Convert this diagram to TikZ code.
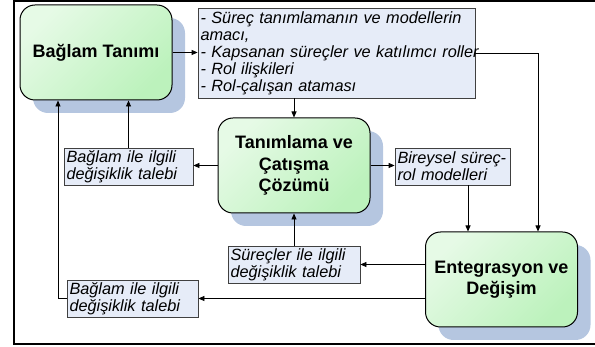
\documentclass[tikz,border=0pt]{standalone}
\usepackage{fontspec}
\setmainfont{Liberation Sans}
\usetikzlibrary{arrows.meta,shadows}
\definecolor{greenA}{HTML}{E6FAE6}
\definecolor{greenB}{HTML}{BCF2BC}
\definecolor{shadowblue}{HTML}{B5C6E0}
\definecolor{notefill}{HTML}{E6ECF8}
\definecolor{noteline}{HTML}{404040}
\tikzset{
  phase/.style={draw, line width=1pt, rounded corners=15pt, minimum width=152pt, minimum height=95pt,
    top color=greenA, bottom color=greenB, shading angle=45,
    drop shadow={shadow xshift=13pt, shadow yshift=-13pt, fill=shadowblue, opacity=1},
    align=center, font=\bfseries\fontsize{18}{21.5}\selectfont},
  note/.style={draw=noteline, fill=notefill, line width=0.8pt, align=left, inner xsep=2.5pt, inner ysep=1pt,
    minimum height=37pt, font=\itshape\fontsize{16.3}{17}\selectfont},
  flow/.style={-{Triangle[length=6pt,width=5pt]}, line width=0.8pt}
}
\begin{document}
\begin{tikzpicture}[x=1pt,y=-1pt]
\useasboundingbox (0,0) rectangle (595,347);
\draw[line width=2pt] (595,1) -- (14,1) -- (14,344) -- (595,344);
% main phases
\node[phase] (baglam) at (96,52.5) {Bağlam Tanımı};
\node[phase] (tanim) at (294,165.5) {Tanımlama ve\\Çatışma\\Çözümü};
\node[phase] (enteg) at (501.5,279.5) {Entegrasyon ve\\Değişim};
% notes
\node[note, text width=272pt, minimum height=90pt] (amac) at (336.5,53) {\mbox{- Süreç tanımlamanın ve modellerin}\\\mbox{amacı,}\\\mbox{- Kapsanan süreçler ve katılımcı roller}\\\mbox{- Rol ilişkileri}\\\mbox{- Rol-çalışan ataması}\\[2pt]};
\node[note, text width=124pt] (talepA) at (128.5,166.5) {Bağlam ile ilgili\\değişiklik talebi};
\node[note, text width=110pt] (bireysel) at (452.5,166.5) {Bireysel süreç-\\rol modelleri};
\node[note, text width=127pt] (surec) at (294,264.5) {Süreçler ile ilgili\\değişiklik talebi};
\node[note, text width=126pt] (talepB) at (132.5,298.5) {Bağlam ile ilgili\\değişiklik talebi};
% connectors
\draw[flow] (baglam.east) -- (baglam.east -| amac.west);
\draw[flow] (tanim.north |- amac.south) -- (tanim.north);
\draw[flow] (amac.east) -| ([xshift=36.5pt]enteg.north);
\draw[flow] (tanim.west) -- (tanim.west -| talepA.east);
\draw[flow] (talepA.north) -- (talepA.north |- baglam.south);
\draw[flow] (tanim.east) -- (tanim.east -| bireysel.west);
\draw[flow] ([xshift=15.5pt]bireysel.south) -- ([xshift=15.5pt]bireysel.south |- enteg.north);
\draw[flow] (enteg.west |- surec.east) -- (surec.east);
\draw[flow] (surec.north) -- (tanim.south);
\draw[flow] (enteg.west |- talepB.east) -- (talepB.east);
\draw[flow] (talepB.west) -| ([xshift=-38pt]baglam.south);
\end{tikzpicture}
\end{document}
